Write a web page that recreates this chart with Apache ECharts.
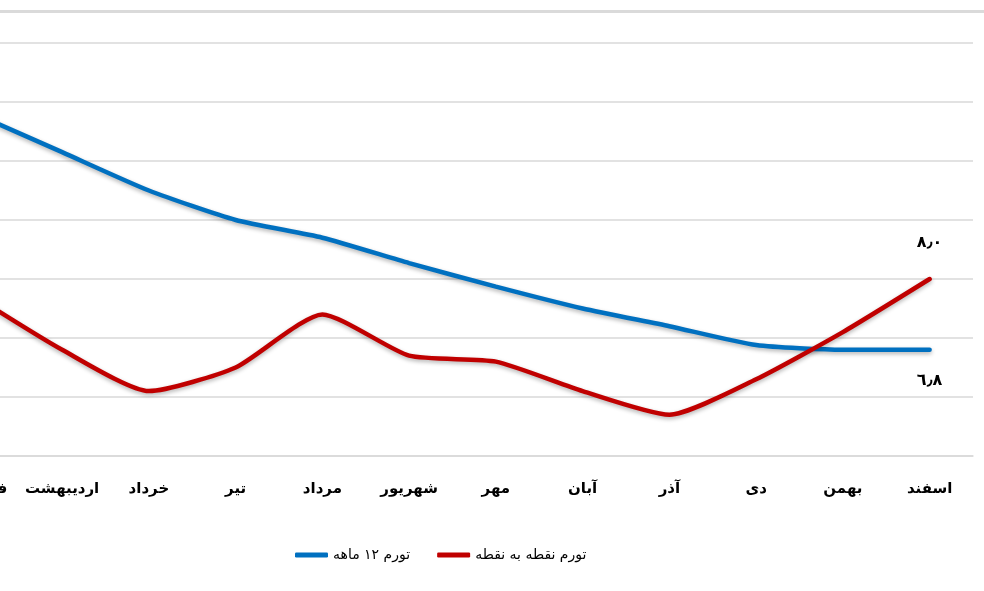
<!DOCTYPE html>
<html>
<head>
<meta charset="utf-8">
<script src="https://cdn.jsdelivr.net/npm/echarts@6/dist/echarts.min.js"></script>
<style>
html,body{margin:0;padding:0;background:#fff;}
#main{width:984px;height:591px;}
</style>
</head>
<body>
<div id="main"></div>
<script>
// ماه‌ها
var months = ['فروردین','اردیبهشت','خرداد','تیر','مرداد','شهریور','مهر','آبان','آذر','دی','بهمن','اسفند'];
// تورم ۱۲ ماهه
var annual = [10.8,10.15,9.5,9.0,8.7,8.27,7.87,7.5,7.2,6.88,6.8,6.8];
// تورم نقطه به نقطه
var pointToPoint = [7.7,6.8,6.1,6.5,7.4,6.7,6.6,6.1,5.7,6.3,7.1,8.0];
var endLabels = ['٨٫٠','٦٫٨'];

var font = 'DejaVu Sans';

function withEndLabel(arr, text, pos, dist){
    return arr.map(function(v,i){
        if(i < arr.length-1) return v;
        return {value:v, label:{show:true, position:pos, distance:dist, formatter:text,
            color:'#000', fontSize:16, fontWeight:'bold', fontFamily:font}};
    });
}

var chart = echarts.init(document.getElementById('main'));
chart.setOption({
    animation:false,
    backgroundColor:'#fff',
    graphic:[{
        type:'rect', left:0, top:10,
        shape:{width:984, height:3},
        style:{fill:'#dadada'}
    }],
    grid:{left:-68, right:11, top:43, bottom:135, outerBoundsMode:'none', containLabel:false},
    legend:{
        bottom:24, left:290,
        itemWidth:33, itemHeight:5, itemGap:27,
        icon:'roundRect',
        textStyle:{fontFamily:font, fontSize:14, color:'#000'},
        data:['تورم ۱۲ ماهه','تورم نقطه به نقطه']
    },
    xAxis:{
        type:'category',
        data:months,
        boundaryGap:true,
        axisLine:{lineStyle:{color:'#d9d9d9', width:1.5}},
        axisTick:{show:false},
        axisLabel:{margin:26, color:'#000', fontSize:15, fontWeight:'bold', fontFamily:font, interval:0}
    },
    yAxis:{
        type:'value',
        min:5, max:12, interval:1,
        axisLabel:{show:false},
        axisLine:{show:false},
        axisTick:{show:false},
        splitLine:{lineStyle:{color:'#d9d9d9', width:1.5}}
    },
    series:[
        {
            name:'تورم ۱۲ ماهه',
            type:'line',
            smooth:0.2,
            symbol:'circle',
            symbolSize:0,
            color:'#0070c0',
            lineStyle:{width:4.5, color:'#0070c0', cap:'round',
                shadowColor:'rgba(0,0,0,0.3)', shadowBlur:4, shadowOffsetY:2},
            data:withEndLabel(annual, endLabels[1], 'bottom', 23)
        },
        {
            name:'تورم نقطه به نقطه',
            type:'line',
            smooth:0.2,
            symbol:'circle',
            symbolSize:0,
            color:'#c00000',
            lineStyle:{width:4.5, color:'#c00000', cap:'round',
                shadowColor:'rgba(0,0,0,0.3)', shadowBlur:4, shadowOffsetY:2},
            data:withEndLabel(pointToPoint, endLabels[0], 'top', 28)
        }
    ]
});
</script>
</body>
</html>
